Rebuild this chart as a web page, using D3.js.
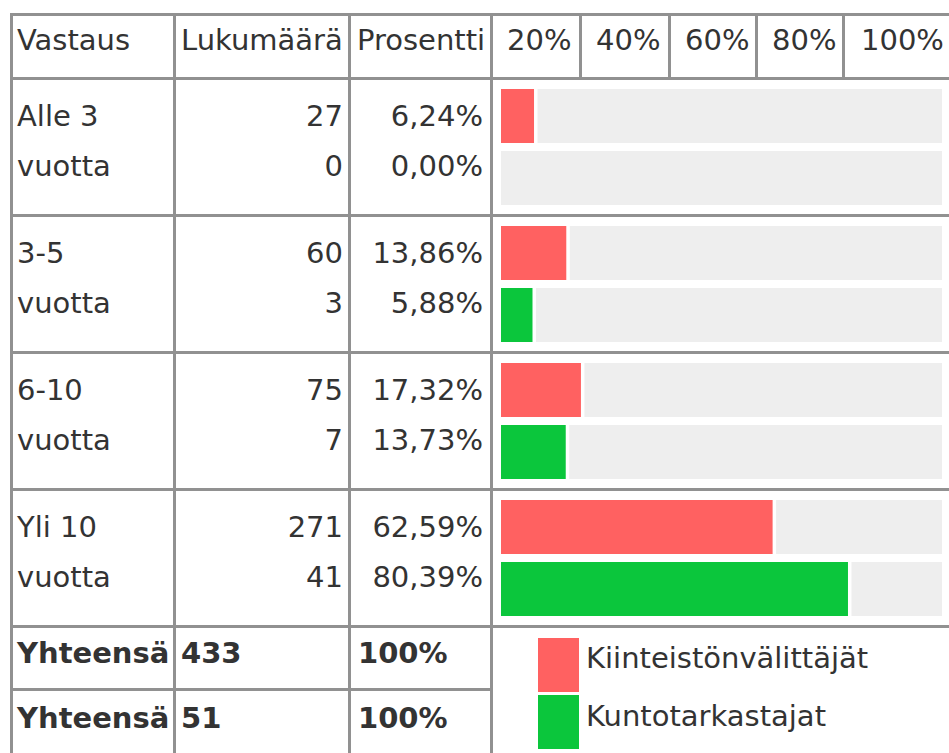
<!DOCTYPE html>
<html>
<head>
<meta charset="utf-8">
<script src="https://cdn.jsdelivr.net/npm/d3@7"></script>
<style>
  html, body { margin: 0; padding: 0; background: #fff; }
  svg { display: block; }
  text { font-family: "DejaVu Sans", Verdana, sans-serif; font-size: 29px; fill: #333; }
  .bold { font-weight: bold; }
</style>
</head>
<body>
<svg id="chart" width="949" height="753"></svg>
<script>
// ---- data ----
const headers = ["Vastaus", "Lukumäärä", "Prosentti"];
const tickLabels = ["20%", "40%", "60%", "80%", "100%"];
const categoryLine1 = ["Alle 3", "3-5", "6-10", "Yli 10"];
const categoryLine2 = ["vuotta", "vuotta", "vuotta", "vuotta"];
const seriesNames = ["Kiinteistönvälittäjät", "Kuntotarkastajat"];
const countsA = [27, 60, 75, 271];
const percentA = [6.24, 13.86, 17.32, 62.59];
const countsB = [0, 3, 7, 41];
const percentB = [0.00, 5.88, 13.73, 80.39];
const totalLabel = "Yhteensä";
const totals = [433, 51];
const totalPercent = ["100%", "100%"];

// ---- layout ----
const colors = ["#ff6161", "#0bc63c"];
const restColor = "#eeeeee";
const lineColor = "#919191";
const svg = d3.select("#chart");

const rowY = d3.scaleLinear().domain([0, 1]).range([80, 217]); // content top of each data row
const x = d3.scaleLinear().domain([0, 100]).range([507.6, 931]);
const barLeft = 501, barRight = 942, barH = 54;

const fmt = v => v.toFixed(2).replace(".", ",") + "%";

const rows = categoryLine1.map((c, i) => ({
  i, l1: c, l2: categoryLine2[i],
  series: [
    { s: 0, n: countsA[i], p: percentA[i] },
    { s: 1, n: countsB[i], p: percentB[i] }
  ]
}));

// bars
const g = svg.append("g");
rows.forEach(r => {
  r.series.forEach(d => {
    const top = rowY(r.i) + 9 + d.s * 62;
    if (d.p > 0) {
      g.append("rect").attr("x", barLeft).attr("y", top)
        .attr("width", x(d.p) - barLeft).attr("height", barH)
        .attr("fill", colors[d.s]);
      g.append("rect").attr("x", x(d.p) + 3.5).attr("y", top)
        .attr("width", barRight - x(d.p) - 3.5).attr("height", barH)
        .attr("fill", restColor);
    } else {
      g.append("rect").attr("x", barLeft).attr("y", top)
        .attr("width", barRight - barLeft).attr("height", barH)
        .attr("fill", restColor);
    }
  });
});

// grid lines
const lines = svg.append("g").attr("stroke", lineColor).attr("stroke-width", 3);
const hl = (x1, x2, y) => lines.append("line").attr("x1", x1).attr("x2", x2).attr("y1", y).attr("y2", y);
const vl = (xx, y1, y2) => lines.append("line").attr("x1", xx).attr("x2", xx).attr("y1", y1).attr("y2", y2);
hl(10, 949, 14.5);
hl(10, 949, 78.5);
rows.forEach(r => hl(10, 949, rowY(r.i + 1) - 1.5));
hl(10, 493, 689.5);
[11.5, 174.5, 349.5, 491.5].forEach(xx => vl(xx, 13, 753));
const tickCells = [493, 582, 671, 758, 845];
[580.5, 669.5, 756.5, 843.5].forEach(xx => vl(xx, 13, 80));

// header text
const t = svg.append("g");
t.append("text").attr("x", 17).attr("y", 50).text(headers[0]);
t.append("text").attr("x", 181).attr("y", 50).text(headers[1]);
t.append("text").attr("x", 357).attr("y", 50).text(headers[2]);
tickLabels.forEach((lab, k) => {
  t.append("text").attr("x", tickCells[k] + 14 + (k === 4 ? 2 : 0)).attr("y", 50).text(lab);
});

// rows text
rows.forEach(r => {
  const b = rowY(r.i) + 45.5;
  t.append("text").attr("x", 17).attr("y", b).text(r.l1);
  t.append("text").attr("x", 17).attr("y", b + 50).text(r.l2);
  r.series.forEach(d => {
    t.append("text").attr("x", 343).attr("y", b + 50 * d.s).attr("text-anchor", "end").text(d.n);
    t.append("text").attr("x", 483).attr("y", b + 50 * d.s).attr("text-anchor", "end").text(fmt(d.p));
  });
});

// totals
totals.forEach((v, k) => {
  const b = 663 + 65 * k;
  t.append("text").attr("class", "bold").attr("x", 17).attr("y", b).text(totalLabel);
  t.append("text").attr("class", "bold").attr("x", 181).attr("y", b).text(v);
  t.append("text").attr("class", "bold").attr("x", 358).attr("y", b).text(totalPercent[k]);
});

// legend
seriesNames.forEach((name, k) => {
  svg.append("rect").attr("x", 538).attr("y", 638 + 57 * k).attr("width", 41).attr("height", 54).attr("fill", colors[k]);
  t.append("text").attr("x", 586).attr("y", 668 + 58 * k).text(name);
});
</script>
</body>
</html>
